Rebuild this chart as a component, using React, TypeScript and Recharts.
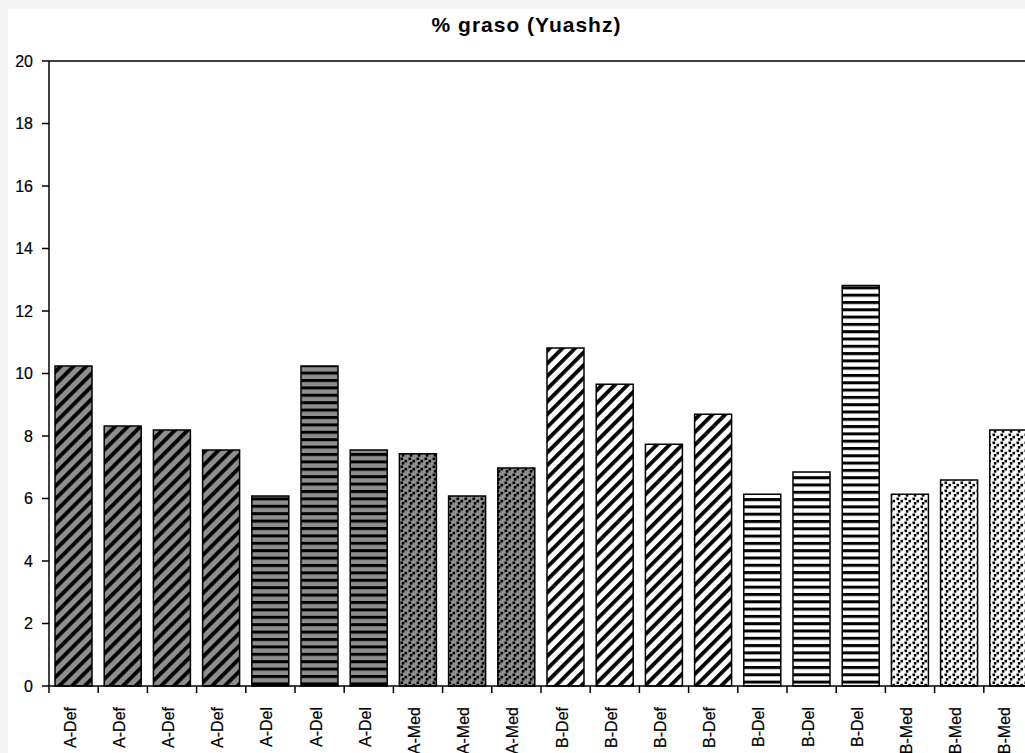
import React from 'react';
import { BarChart, Bar, XAxis, YAxis, Cell, ReferenceLine } from 'recharts';

const categories = [
  'A-Def', 'A-Def', 'A-Def', 'A-Def',
  'A-Del', 'A-Del', 'A-Del',
  'A-Med', 'A-Med', 'A-Med',
  'B-Def', 'B-Def', 'B-Def', 'B-Def',
  'B-Del', 'B-Del', 'B-Del',
  'B-Med', 'B-Med', 'B-Med'
];
const values = [
  10.24, 8.32, 8.19, 7.55,
  6.08, 10.24, 7.55,
  7.43, 6.08, 6.98,
  10.82, 9.66, 7.74, 8.7,
  6.14, 6.85, 12.82,
  6.14, 6.59, 8.19
];
const yTicks = [0, 2, 4, 6, 8, 10, 12, 14, 16, 18, 20];

const data = categories.map((name, i) => ({ name, value: values[i] }));

const patternFor: Record<string, string> = {
  'A-Def': 'url(#diagGray)',
  'A-Del': 'url(#horizGray)',
  'A-Med': 'url(#dotsGray)',
  'B-Def': 'url(#diagWhite)',
  'B-Del': 'url(#horizWhite)',
  'B-Med': 'url(#dotsWhite)'
};

const PLOT_W = 984;
const BAND = PLOT_W / categories.length;
const FONT = 'Arial, "Liberation Sans", sans-serif';

const XTick = (props: any) => {
  const { x, y, payload } = props;
  const lx = x - BAND / 2;
  return (
    <g>
      <line x1={lx} y1={y} x2={lx} y2={y + 7} stroke='#000' strokeWidth={1.5} />
      <text
        x={x + 2}
        y={y + 21}
        textAnchor='end'
        transform={`rotate(-90, ${x + 2}, ${y + 21})`}
        fontSize={16}
        fontFamily={FONT}
        fill='#000'
        stroke='#000'
        strokeWidth={0.2}
      >
        {payload.value}
      </text>
    </g>
  );
};

// Excel-like fill patterns: diagonal, horizontal and dotted, on grey or white
const Dots = ({ bg }: { bg: string }) => (
  <>
    <rect width={8} height={8} fill={bg} />
    <rect x={0.5} y={0.5} width={2.6} height={2.6} fill='#000' />
    <rect x={4.5} y={2.8} width={2.6} height={2.6} fill='#000' />
    <rect x={1.8} y={5} width={2.6} height={2.6} fill='#000' />
  </>
);

const Patterns = () => (
  <defs>
    <pattern id='diagGray' width={9} height={9} patternUnits='userSpaceOnUse' patternTransform='rotate(-45)'>
      <rect width={9} height={9} fill='#8e8e8e' />
      <rect width={9} height={3.8} fill='#000' />
    </pattern>
    <pattern id='diagWhite' width={9} height={9} patternUnits='userSpaceOnUse' patternTransform='rotate(-45)'>
      <rect width={9} height={9} fill='#fff' />
      <rect width={9} height={3.8} fill='#000' />
    </pattern>
    <pattern id='horizGray' width={8} height={7.4} patternUnits='userSpaceOnUse'>
      <rect width={8} height={7.4} fill='#8e8e8e' />
      <rect width={8} height={3} fill='#000' />
    </pattern>
    <pattern id='horizWhite' width={8} height={7.3} patternUnits='userSpaceOnUse'>
      <rect width={8} height={7.3} fill='#fff' />
      <rect width={8} height={3} fill='#000' />
    </pattern>
    <pattern id='dotsGray' width={8} height={8} patternUnits='userSpaceOnUse'>
      <Dots bg='#8e8e8e' />
    </pattern>
    <pattern id='dotsWhite' width={8} height={8} patternUnits='userSpaceOnUse'>
      <Dots bg='#fff' />
    </pattern>
  </defs>
);

export default function App() {
  return (
    <div
      style={{
        position: 'fixed',
        left: 0,
        top: 0,
        width: 1025,
        height: 753,
        background: '#f4f4f4',
        overflow: 'hidden'
      }}
    >
      <div
        style={{
          position: 'absolute',
          left: 8,
          top: 9,
          width: 1017,
          height: 744,
          background: '#fff',
          overflow: 'hidden'
        }}
      >
        <BarChart
          width={1040}
          height={760}
          data={data}
          margin={{ top: 52, right: 15, left: 0, bottom: 0 }}
        >
          <Patterns />
          <XAxis
            dataKey='name'
            interval={0}
            tickLine={false}
            tickSize={0}
            tickMargin={0}
            height={83}
            axisLine={{ stroke: '#000', strokeWidth: 1.5 }}
            tick={<XTick />}
          />
          <YAxis
            width={41}
            domain={[0, 20]}
            ticks={yTicks}
            interval={0}
            tickSize={7}
            tickMargin={9}
            axisLine={{ stroke: '#000', strokeWidth: 1.5 }}
            tickLine={{ stroke: '#000', strokeWidth: 1.5 }}
            tick={{ fontSize: 16, fontFamily: FONT, fill: '#000', stroke: '#000', strokeWidth: 0.2 }}
          />
          <ReferenceLine y={20} stroke='#000' strokeWidth={1.5} />
          <Bar dataKey='value' barSize={37} stroke='#000' strokeWidth={1.5} isAnimationActive={false}>
            {data.map((d, i) => (
              <Cell key={i} fill={patternFor[d.name]} />
            ))}
          </Bar>
        </BarChart>
        <div
          style={{
            position: 'absolute',
            left: -8,
            width: 1053,
            top: 5,
            textAlign: 'center',
            fontFamily: FONT,
            fontWeight: 'bold',
            fontSize: 21,
            letterSpacing: 1,
            lineHeight: '22px',
            color: '#000'
          }}
        >
          % graso (Yuashz)
        </div>
      </div>
    </div>
  );
}
